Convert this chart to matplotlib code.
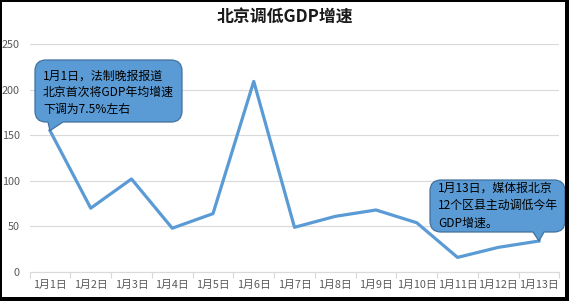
import matplotlib
matplotlib.use("Agg")
import matplotlib.pyplot as plt
from matplotlib.path import Path
from matplotlib.patches import PathPatch, Rectangle
from matplotlib.transforms import IdentityTransform

plt.rcParams['font.family'] = ['Noto Sans CJK SC', 'DejaVu Sans']

categories = ["1月1日", "1月2日", "1月3日", "1月4日", "1月5日", "1月6日", "1月7日",
              "1月8日", "1月9日", "1月10日", "1月11日", "1月12日", "1月13日"]
values = [155, 70, 102, 48, 64, 209, 49, 61, 68, 54, 16, 27, 34]
yticks = [0, 50, 100, 150, 200, 250]
title = "北京调低GDP增速"
note1 = ["1月1日，法制晚报报道", "北京首次将GDP年均增速", "下调为7.5%左右"]
note2 = ["1月13日，媒体报北京", "12个区县主动调低今年", "GDP增速。"]

W, H = 569, 301
fig = plt.figure(figsize=(W / 100, H / 100), dpi=100)
fig.patch.set_facecolor("white")

ax = fig.add_axes([29.6 / W, 29 / H, (559.4 - 29.6) / W, (257 - 29) / H])
x = list(range(len(categories)))
ax.plot(x, values, color="#5B9BD5", lw=2.3, solid_joinstyle="round", zorder=3)
ax.set_xlim(-0.5, len(categories) - 0.5)
ax.set_ylim(0, 250)
ax.set_yticks(yticks)
ax.grid(axis="y", color="#D9D9D9", lw=0.8)
ax.set_axisbelow(True)
for s in ["top", "right", "left"]:
    ax.spines[s].set_visible(False)
ax.spines["bottom"].set_color("#D9D9D9")
ax.spines["bottom"].set_linewidth(0.8)
ax.set_xticks([i - 0.5 for i in range(len(categories) + 1)])
ax.set_xticklabels([])
ax.tick_params(axis="x", which="major", length=4, color="#D9D9D9", width=0.8)
ax.set_xticks(x, minor=True)
ax.set_xticklabels(categories, minor=True)
ax.tick_params(axis="x", which="minor", length=0, pad=6, labelsize=7.8, labelcolor="#595959")
ax.tick_params(axis="y", length=0, pad=7, labelsize=7.8, labelcolor="#595959")

fig.text(285 / W, 1 - 18 / H, title, ha="center", va="center", fontsize=12.2, fontweight="bold", color="#1a1a1a")


def callout(x0, x1, ytop, ybot, r, bx0, bx1, tip):
    # box given in top-origin pixels; tip in display coords
    yb = H - ybot
    yt = H - ytop
    verts = [(x0 + r, yb), (bx0, yb), tip, (bx1, yb), (x1 - r, yb),
             (x1, yb), (x1, yb + r), (x1, yt - r), (x1, yt), (x1 - r, yt),
             (x0 + r, yt), (x0, yt), (x0, yt - r), (x0, yb + r), (x0, yb), (x0 + r, yb),
             (x0 + r, yb)]
    codes = [Path.MOVETO, Path.LINETO, Path.LINETO, Path.LINETO, Path.LINETO,
             Path.CURVE3, Path.CURVE3, Path.LINETO, Path.CURVE3, Path.CURVE3,
             Path.LINETO, Path.CURVE3, Path.CURVE3, Path.LINETO, Path.CURVE3, Path.CURVE3,
             Path.CLOSEPOLY]
    p = PathPatch(Path(verts, codes), facecolor="#5B9BD5", edgecolor="#41719C", lw=0.9,
                  transform=IdentityTransform(), zorder=5)
    fig.add_artist(p)


tip1 = tuple(ax.transData.transform((0, values[0])))
tip2 = tuple(ax.transData.transform((len(values) - 1, values[-1])))
callout(35, 182, 60, 122, 11, 48, 63, tip1)
callout(430, 565, 180, 232, 11, 533, 544, tip2)

for i, line in enumerate(note1):
    fig.text(43 / W, 1 - (76 + 16.6 * i) / H, line, ha="left", va="center", fontsize=8.6,
             fontweight="medium", color="black", zorder=6)
for i, line in enumerate(note2):
    fig.text(438 / W, 1 - (188 + 17.5 * i) / H, line, ha="left", va="center", fontsize=8.6,
             fontweight="medium", color="black", zorder=6)

# frame
for (rx, ry, rw, rh) in [(0, 0, 2, H), (0, H - 2, W, 2), (W - 4, 0, 4, H), (0, 0, W, 4)]:
    fig.add_artist(Rectangle((rx / W, ry / H), rw / W, rh / H, transform=fig.transFigure,
                             facecolor="black", edgecolor="none", zorder=10))

fig.savefig("out.png", dpi=100)
